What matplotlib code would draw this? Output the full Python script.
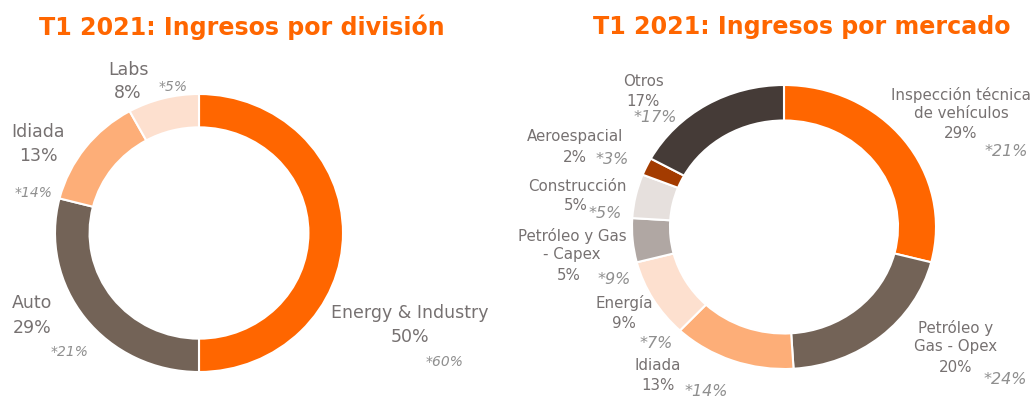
import matplotlib.pyplot as plt

# left chart: revenue by division
div_labels = ["Energy & Industry", "Auto", "Idiada", "Labs"]
div_share = [50, 29, 13, 8]
div_prev = [60, 21, 14, 5]
div_colors = ["#FF6600", "#736357", "#FDAE78", "#FDE0CF"]

# right chart: revenue by market
mkt_labels = ["Inspección técnica\nde vehículos", "Petróleo y\nGas - Opex", "Idiada", "Energía",
              "Petróleo y Gas\n- Capex", "Construcción", "Aeroespacial", "Otros"]
mkt_share = [29, 20, 13, 9, 5, 5, 2, 17]
mkt_prev = [21, 24, 14, 7, 9, 5, 3, 17]
mkt_colors = ["#FF6600", "#736357", "#FDAE78", "#FDE0CF", "#B0A7A3", "#E6E0DD", "#A33B00", "#453B37"]

W, H = 1034, 400
ORANGE = "#FF6600"
LABEL_C = "#767171"
PREV_C = "#8F8F8F"

fig = plt.figure(figsize=(W / 100, H / 100), dpi=100)


def px(x, y):
    return x / W, 1 - y / H


def donut(box, values, colors, width):
    l, t, r, b = box
    ax = fig.add_axes([l / W, 1 - b / H, (r - l) / W, (b - t) / H])
    ax.pie(values, colors=colors, startangle=90, counterclock=False,
           wedgeprops=dict(width=width, edgecolor="white", linewidth=1.5))
    ax.set_aspect("auto")
    ax.set_xlim(-1, 1)
    ax.set_ylim(-1, 1)
    ax.axis("off")
    return ax


donut((55, 94, 343, 372), div_share, div_colors, 0.24)
donut((632, 85, 936, 369), mkt_share, mkt_colors, 0.25)

fig.text(*px(242, 27), "T1 2021: Ingresos por división", color=ORANGE, fontsize=17.1,
         fontweight="bold", ha="center", va="center")
fig.text(*px(802, 27), "T1 2021: Ingresos por mercado", color=ORANGE, fontsize=17.1,
         fontweight="bold", ha="center", va="center")

# label positions (pixels): name centre, share centre, previous-year figure centre
div_pos = [((410, 313), (410, 337), (445, 362)),
           ((32, 303), (32, 328), (70, 352)),
           ((38, 132), (38, 156), (34, 193)),
           ((128, 70), (128, 93), (173, 87))]
for name, s, p, (np_, sp, pp) in zip(div_labels, div_share, div_prev, div_pos):
    fig.text(*px(*np_), name, color=LABEL_C, fontsize=12.5, ha="center", va="center")
    fig.text(*px(*sp), f"{s}%", color=LABEL_C, fontsize=12.5, ha="center", va="center")
    fig.text(*px(*pp), f"*{p}%", color=PREV_C, fontsize=10, style="italic",
             ha="center", va="center")

mkt_pos = [((961, 104), (961, 133), (1006, 152)),
           ((956, 337), (956, 367), (1005, 380)),
           ((658, 366), (658, 386), (706, 392)),
           ((624, 303), (624, 323), (656, 343)),
           ((572, 245), (569, 275), (614, 280)),
           ((577, 186), (576, 206), (605, 214)),
           ((575, 137), (575, 157), (612, 160)),
           ((643, 82), (643, 101), (655, 117))]
for name, s, p, (np_, sp, pp) in zip(mkt_labels, mkt_share, mkt_prev, mkt_pos):
    fig.text(*px(*np_), name, color=LABEL_C, fontsize=10.8, ha="center",
             va="center", linespacing=1.3)
    fig.text(*px(*sp), f"{s}%", color=LABEL_C, fontsize=10.8, ha="center", va="center")
    fig.text(*px(*pp), f"*{p}%", color=PREV_C, fontsize=11.5, style="italic",
             ha="center", va="center")

fig.savefig("out.png", dpi=100, facecolor="white")
